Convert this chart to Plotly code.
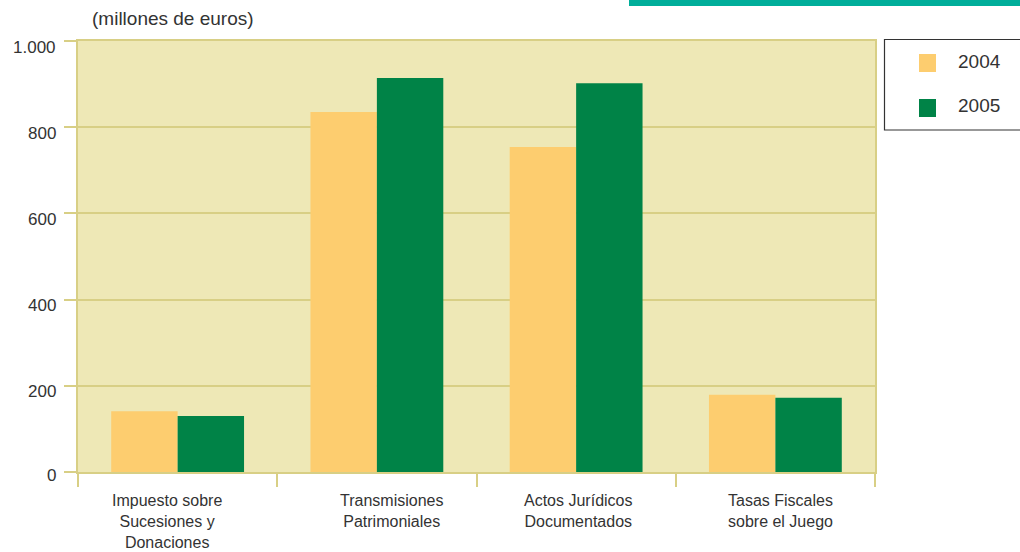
import plotly.graph_objects as go

categories = ["Impuesto sobre<br>Sucesiones y<br>Donaciones",
              "Transmisiones<br>Patrimoniales",
              "Actos Jurídicos<br>Documentados",
              "Tasas Fiscales<br>sobre el Juego"]
series_names = ["2004", "2005"]
values_2004 = [141, 835, 754, 179]
values_2005 = [130, 914, 902, 172]
y_ticks = [0, 200, 400, 600, 800, 1000]
y_tick_labels = ["0", "200", "400", "600", "800", "1.000"]

colors = ["#FDCD6F", "#008347"]
grid = "#D8CF85"
txt = "#333333"
font_main = "Liberation Sans, Arial"
label_xshift = [-11, 15, 2, 5]

fig = go.Figure()
for name, vals, c in zip(series_names, [values_2004, values_2005], colors):
    fig.add_trace(go.Bar(x=categories, y=vals, name=name, marker=dict(color=c, line=dict(width=0)),
                         showlegend=False, hoverinfo="skip"))

W, H = 1020, 552
L, R, T, B = 78, 145, 41, 80
pw, ph = W - L - R, H - T - B

def px(x):
    return (x - L) / pw

def py(y):
    return (H - B - y) / ph

shapes = [
    dict(type="rect", xref="paper", yref="paper", x0=px(629), x1=px(1030), y0=py(6), y1=py(-5),
         fillcolor="#00AE9A", line=dict(width=0), layer="above"),
    dict(type="rect", xref="paper", yref="paper", x0=px(884.5), x1=px(1030), y0=py(130), y1=py(39.5),
         fillcolor="white", line=dict(color="#333333", width=1.2)),
]
annotations = [
    dict(text="(millones de euros)", xref="paper", yref="paper", x=px(90), y=py(18),
         xanchor="left", yanchor="middle", showarrow=False,
         font=dict(family=font_main, size=19, color=txt)),
]
for v, lab in zip(y_ticks, y_tick_labels):
    annotations.append(dict(text=lab, xref="paper", yref="y", x=px(58), y=v,
                            xanchor="right", yanchor="middle", yshift=-6 if v > 0 else -3,
                            showarrow=False, font=dict(family=font_main, size=17, color=txt)))
for cat, xs in zip(categories, label_xshift):
    annotations.append(dict(text=cat, xref="x", yref="paper", x=cat, y=py(490), xshift=xs,
                            xanchor="center", yanchor="top", showarrow=False,
                            font=dict(family=font_main, size=16, color=txt)))
for i, (name, c) in enumerate(zip(series_names, colors)):
    yc = 63 + 45 * i
    shapes.append(dict(type="rect", xref="paper", yref="paper", x0=px(919), x1=px(936),
                       y0=py(yc + 9), y1=py(yc - 9), fillcolor=c, line=dict(width=0)))
    annotations.append(dict(text=name, xref="paper", yref="paper", x=px(956), y=py(yc - 2),
                            xanchor="left", yanchor="middle", showarrow=False,
                            font=dict(family=font_main, size=19, color=txt)))

fig.update_layout(
    width=W, height=H,
    margin=dict(l=L, r=R, t=T, b=B, pad=0, autoexpand=False),
    paper_bgcolor="white", plot_bgcolor="#EEE8B6",
    barmode="group", bargap=1/3, bargroupgap=0,
    separators=",.",
    shapes=shapes, annotations=annotations,
    font=dict(family=font_main, color=txt),
    hovermode=False,
)
fig.update_xaxes(showgrid=False, showline=True, linecolor=grid, linewidth=2, mirror=True,
                 ticks="outside", tickson="boundaries", ticklen=13, tickcolor=grid, tickwidth=2,
                 showticklabels=False, automargin=False)
fig.update_yaxes(range=[0, 1000], tickvals=y_ticks, showticklabels=False,
                 showgrid=True, gridcolor=grid, gridwidth=2,
                 showline=True, linecolor=grid, linewidth=2, mirror=True,
                 ticks="outside", ticklen=12, tickcolor=grid, tickwidth=2,
                 zeroline=False, automargin=False)

fig.write_html("out.html", config={"displayModeBar": False},
               post_script="document.body.style.margin='0';document.body.style.overflow='hidden';")
